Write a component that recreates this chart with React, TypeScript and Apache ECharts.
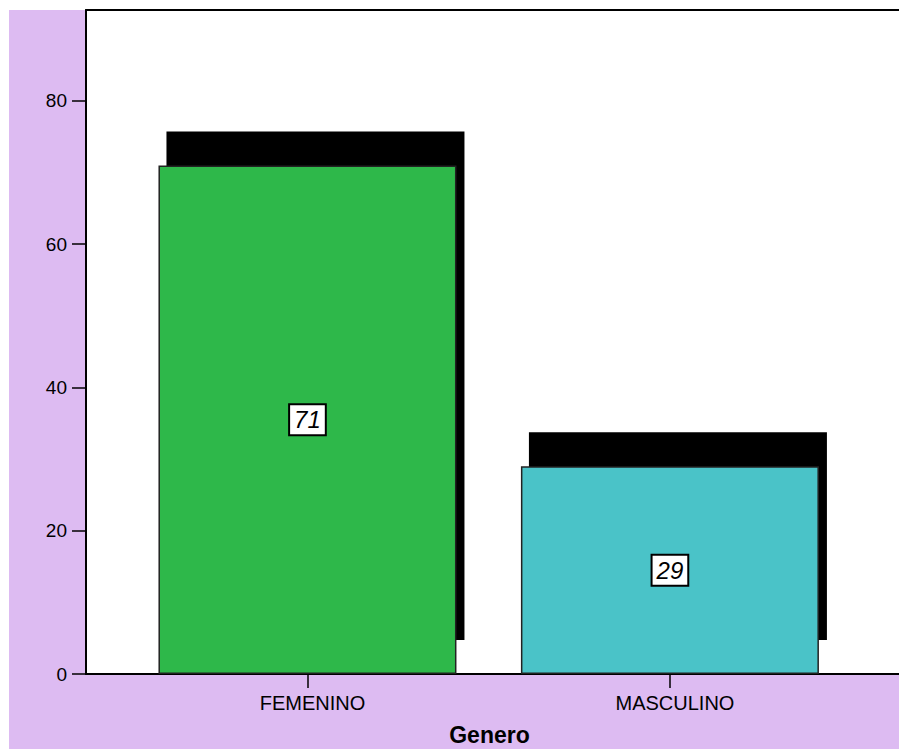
import React, { useEffect, useRef } from "react";
import * as echarts from "echarts";

// Gender distribution (counts)
const categories: string[] = ["FEMENINO", "MASCULINO"];
const counts: number[] = [71, 29];
const barColors: string[] = ["#2EB84A", "#4AC3C8"];
const yTicks: number[] = [0, 20, 40, 60, 80];
const yMax = 92.7;
const axisTitle = "Genero";

const BAR_PX = 298;
const SHADOW_DX = 8;
const SHADOW_DY = -34;

export default function App() {
  const ref = useRef<HTMLDivElement>(null);

  useEffect(() => {
    if (!ref.current) return;
    const chart = echarts.init(ref.current, null, { renderer: "svg" });

    const points = counts.map((v, i) => [i, v]);
    const xMin = -0.611;
    const xMax = 1.632;
    const font = "Liberation Sans, Arial, sans-serif";

    chart.setOption({
      animation: false,
      backgroundColor: "#DDBBF2",
      textStyle: { fontFamily: font },
      graphic: {
        elements: [
          { type: "rect", shape: { x: 0, y: 0, width: 899, height: 10 }, style: { fill: "#ffffff" } },
          { type: "rect", shape: { x: 0, y: 0, width: 9, height: 749 }, style: { fill: "#ffffff" } },
        ],
      },
      grid: {
        left: 86,
        right: 0,
        top: 10,
        bottom: 75,
        show: true,
        backgroundColor: "#ffffff",
        borderWidth: 0,
        containLabel: false,
        outerBoundsMode: "none",
      },
      xAxis: [
        {
          type: "value",
          min: xMin,
          max: xMax,
          splitLine: { show: false },
          axisLine: { show: true, onZero: false, lineStyle: { color: "#000", width: 2 } },
          axisTick: {
            show: true,
            length: 14,
            lineStyle: { color: "#000", width: 1.5 },
            customValues: categories.map((_, i) => i),
          },
          axisLabel: {
            customValues: categories.map((_, i) => i),
            formatter: (v: number) => categories[Math.round(v)] ?? "",
            color: "#000",
            fontSize: 20,
            margin: 19,
            padding: [0, 0, 0, 10],
            fontFamily: font,
          },
          name: axisTitle,
          nameLocation: "middle",
          nameGap: 49,
          nameTextStyle: {
            color: "#000",
            fontSize: 23,
            fontWeight: "bold",
            fontFamily: font,
            padding: [0, 6, 0, 0],
          },
        },
        {
          type: "value",
          position: "top",
          min: xMin,
          max: xMax,
          splitLine: { show: false },
          axisLine: { show: true, onZero: false, lineStyle: { color: "#000", width: 2 } },
          axisTick: { show: false },
          axisLabel: { show: false },
        },
      ],
      yAxis: {
        type: "value",
        min: 0,
        max: yMax,
        splitLine: { show: false },
        axisLine: { show: true, onZero: false, lineStyle: { color: "#000", width: 2 } },
        axisTick: {
          show: true,
          length: 14,
          lineStyle: { color: "#000", width: 1.5 },
          customValues: yTicks,
        },
        axisLabel: {
          customValues: yTicks,
          color: "#000",
          fontSize: 19,
          margin: 19,
          fontFamily: font,
        },
      },
      series: [
        {
          type: "custom",
          name: "shadow",
          xAxisIndex: 0,
          z: 1,
          data: points,
          renderItem: (params: any, api: any) => {
            const top = api.coord([api.value(0), api.value(1)]);
            const base = api.coord([api.value(0), 0]);
            return {
              type: "rect",
              shape: {
                x: top[0] - BAR_PX / 2 + SHADOW_DX,
                y: top[1] + SHADOW_DY,
                width: BAR_PX,
                height: base[1] - top[1],
              },
              style: { fill: "#000000" },
            };
          },
        },
        {
          type: "bar",
          name: "count",
          xAxisIndex: 0,
          z: 2,
          barWidth: BAR_PX,
          data: points.map((p, i) => ({
            value: p,
            itemStyle: { color: barColors[i], borderColor: "#222", borderWidth: 1.5 },
          })),
          label: {
            show: true,
            position: "inside",
            formatter: (p: any) => String(p.value[1]),
            color: "#000",
            fontSize: 24,
            fontStyle: "italic",
            fontFamily: font,
            backgroundColor: "#ffffff",
            borderColor: "#000",
            borderWidth: 2,
            padding: [3, 4, 2, 4],
          },
        },
      ],
    });

    return () => chart.dispose();
  }, []);

  return (
    <div
      ref={ref}
      style={{ position: "absolute", left: 0, top: 0, width: 899, height: 749 }}
    />
  );
}
